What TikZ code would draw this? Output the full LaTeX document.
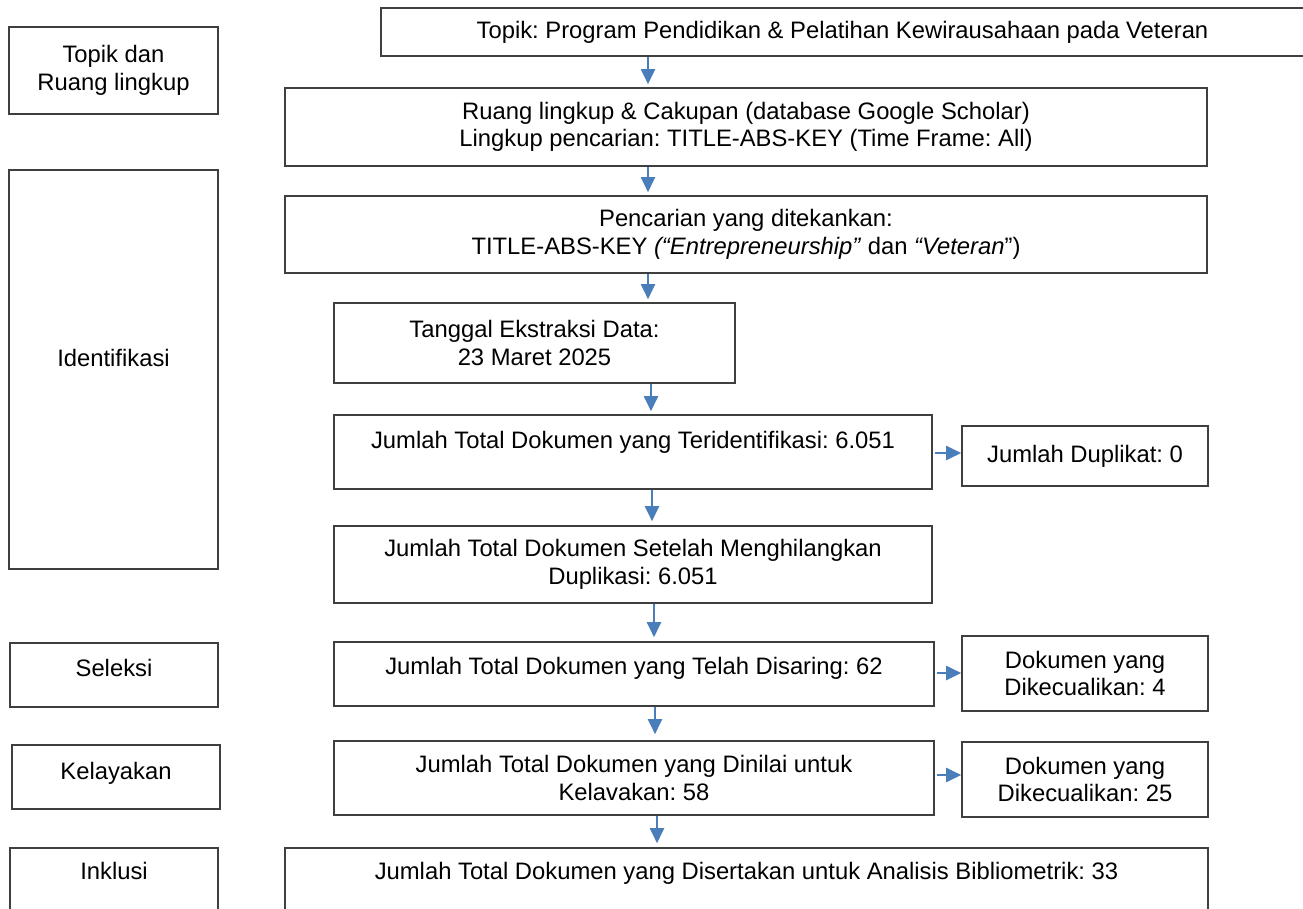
\documentclass[tikz,border=0pt]{standalone}
\usepackage{fontspec}
\setmainfont{Liberation Sans}
\usetikzlibrary{arrows.meta}
\definecolor{arrblue}{HTML}{4A7EBB}
\definecolor{boxline}{HTML}{3F3F3F}
\frenchspacing
\begin{document}
\begin{tikzpicture}[x=1pt,y=-1pt,
  box/.style={draw=boxline, line width=1.6pt, inner sep=0pt, align=center,
    font=\fontsize{23.8}{27.4}\selectfont},
  txt/.style={inner sep=0pt, align=center, font=\fontsize{23.8}{27.4}\selectfont},
  arr/.style={draw=arrblue, line width=2pt, -{Triangle[length=15pt,width=14pt]}}]
\useasboundingbox (0,0) rectangle (1303,908);
\fill[white] (0,0) rectangle (1303,908);
\clip (0,0) rectangle (1303,908);
% left column
\node[box, minimum width=209pt, minimum height=87pt] (L1) at (113.5,70.5) {Topik dan\\Ruang lingkup};
\node[box, minimum width=209pt, minimum height=399pt] (L2) at (113.5,369.5) {};
\node[txt] (L2t) at (113.5,358) {Identifikasi};
\node[box, minimum width=208pt, minimum height=64pt] (L3) at (114,675) {};
\node[txt] (L3t) at (114,668) {Seleksi};
\node[box, minimum width=208pt, minimum height=64pt] (L4) at (116,777) {};
\node[txt] (L4t) at (116,773) {Kelayakan};
\node[box, minimum width=208pt, minimum height=74pt] (L5) at (114,885) {};
\node[txt] (L5t) at (114,871) {Inklusi};
% main column
\node[box, minimum width=923pt, minimum height=48pt] (M1) at (842.5,32) {Topik: Program Pendidikan \& Pelatihan Kewirausahaan pada Veteran};
\node[box, minimum width=922pt, minimum height=78pt] (M2) at (746,127) {Ruang lingkup \& Cakupan (database Google Scholar)\\Lingkup pencarian: TITLE-ABS-KEY (Time Frame: All)};
\node[box, minimum width=922pt, minimum height=77pt] (M3) at (746,234.5) {Pencarian yang ditekankan:\\TITLE-ABS-KEY \textit{(“Entrepreneurship”} dan \textit{“Veteran}”)};
\node[box, minimum width=401pt, minimum height=80pt] (M4) at (534.5,343) {Tanggal Ekstraksi Data:\\23 Maret 2025};
\node[box, minimum width=598pt, minimum height=74pt] (M5) at (633,452) {};
\node[txt] (M5t) at (633,442) {Jumlah Total Dokumen yang Teridentifikasi: 6.051};
\node[box, minimum width=598pt, minimum height=77pt] (M6) at (633,564.5) {Jumlah Total Dokumen Setelah Menghilangkan\\Duplikasi: 6.051};
\node[box, minimum width=600pt, minimum height=64pt] (M7) at (634,674) {};
\node[txt] (M7t) at (634,668) {Jumlah Total Dokumen yang Telah Disaring: 62};
\node[box, minimum width=600pt, minimum height=74pt] (M8) at (634,778) {Jumlah Total Dokumen yang Dinilai untuk\\Kelavakan: 58};
\node[box, minimum width=923pt, minimum height=74pt] (M9) at (746.5,885) {};
\node[txt] (M9t) at (746.5,873) {Jumlah Total Dokumen yang Disertakan untuk Analisis Bibliometrik: 33};
% side boxes
\node[box, minimum width=246pt, minimum height=60pt] (D1) at (1085,456) {Jumlah Duplikat: 0};
\node[box, minimum width=246pt, minimum height=75pt] (D2) at (1085,673.5) {Dokumen yang\\Dikecualikan: 4};
\node[box, minimum width=246pt, minimum height=75pt] (D3) at (1085,779.5) {Dokumen yang\\Dikecualikan: 25};
% arrow guide coordinates
\coordinate (x1) at (648,0);
\coordinate (x4) at (651,0);
\coordinate (x5) at (652,0);
\coordinate (x6) at (654,0);
\coordinate (x7) at (655,0);
\coordinate (x8) at (657,0);
\coordinate (y1) at (0,453);
\coordinate (y2) at (0,673);
\coordinate (y3) at (0,775);
% vertical arrows
\draw[arr, shorten >=3pt] (M1.south -| x1) -- (M2.north -| x1);
\draw[arr, shorten >=3pt] (M2.south -| x1) -- (M3.north -| x1);
\draw[arr, shorten >=3pt] (M3.south -| x1) -- (M4.north -| x1);
\draw[arr, shorten >=3pt] (M4.south -| x4) -- (M5.north -| x4);
\draw[arr, shorten >=4pt] (M5.south -| x5) -- (M6.north -| x5);
\draw[arr, shorten >=4pt] (M6.south -| x6) -- (M7.north -| x6);
\draw[arr, shorten >=6pt] (M7.south -| x7) -- (M8.north -| x7);
\draw[arr, shorten >=4pt] (M8.south -| x8) -- (M9.north -| x8);
% horizontal arrows
\draw[arr, shorten <=2pt] (M5.east |- y1) -- (D1.west |- y1);
\draw[arr, shorten <=2pt] (M7.east |- y2) -- (D2.west |- y2);
\draw[arr, shorten <=2pt] (M8.east |- y3) -- (D3.west |- y3);
\end{tikzpicture}
\end{document}
